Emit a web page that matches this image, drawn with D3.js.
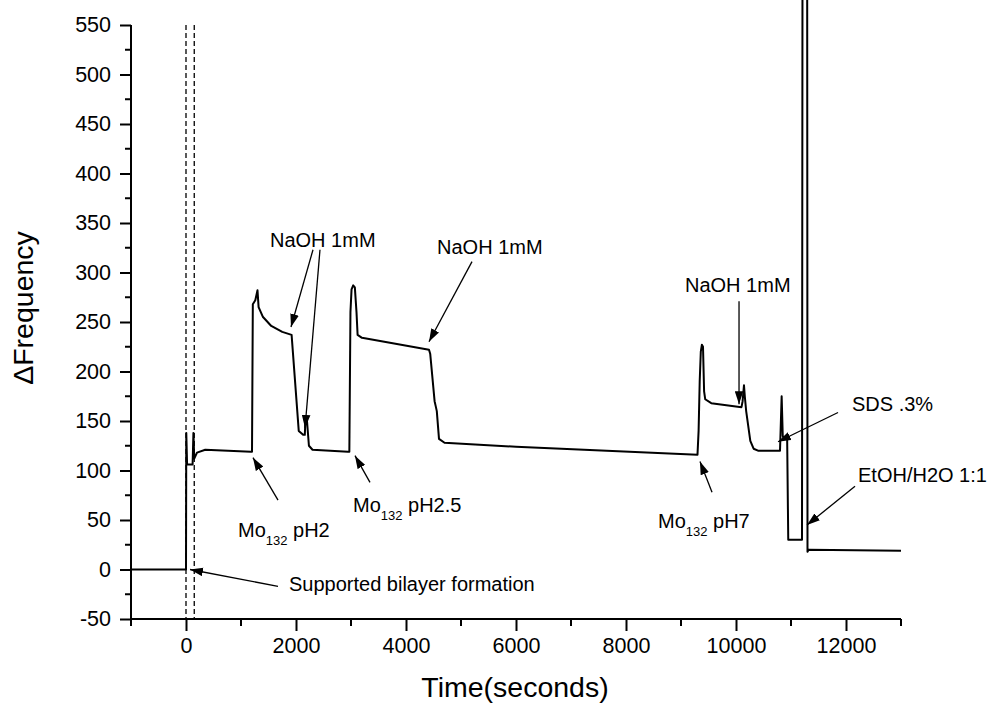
<!DOCTYPE html>
<html>
<head>
<meta charset="utf-8">
<script src="https://cdn.jsdelivr.net/npm/d3@7"></script>
<style>
  html, body { margin: 0; padding: 0; background: #fff; }
  svg { display: block; }
  text { font-family: Arial, "Liberation Sans", sans-serif; fill: #000; }
</style>
</head>
<body>
<svg id="chart" width="997" height="711"></svg>
<script>
// QCM-D trace: frequency shift over time
const timeSec = [
  -1000, 0, 5, 20, 120, 135, 150, 200, 350, 1180,
  1200, 1215, 1260, 1300, 1320, 1400, 1550, 1750, 1920,
  2050, 2130, 2160, 2175, 2200, 2235, 2300, 2945,
  2970, 2990, 3010, 3040, 3070, 3100, 3120, 3200, 4418,
  4440, 4520, 4540, 4560, 4600, 4700, 6000, 9300,
  9320, 9340, 9360, 9380, 9400, 9420, 9440, 9550, 10100,
  10120, 10145, 10160, 10185, 10260, 10320, 10400, 10800,
  10830, 10850, 10870, 10930, 10950, 11000, 11200,
  11215, 11290, 11300, 11320, 13000
];
const deltaFreq = [
  0, 0, 138, 106, 106, 138, 112, 118, 121, 119,
  119, 268, 272, 282, 265, 255, 246, 240, 237,
  140, 136, 136, 155, 150, 125, 121, 119,
  119, 260, 283, 287, 285, 260, 237, 234, 222,
  218, 170, 165, 160, 132, 128, 124, 116,
  140, 190, 220, 227, 225, 180, 172, 168, 164,
  170, 186, 175, 160, 130, 122, 120, 120,
  175, 135, 132, 133, 30, 30, 30,
  1000, 1000, 18, 20, 19
];

// Injection markers (dashed) at the start of bilayer formation
const markerTimes = [0, 150];

// Tick values
const xMajorTicks = [0, 2000, 4000, 6000, 8000, 10000, 12000];
const xMinorTicks = [-1000, 1000, 3000, 5000, 7000, 9000, 11000, 13000];
const yMajorTicks = [-50, 0, 50, 100, 150, 200, 250, 300, 350, 400, 450, 500, 550];
const yMinorTicks = [-25, 25, 75, 125, 175, 225, 275, 325, 375, 425, 475, 525];

// Event annotations: label anchor and arrow (from -> tip) in data units
const annotations = [
  { label: "Supported bilayer formation", at: [1873, -22], arrows: [[[1673, -17], [73, 0]]] },
  { label: "Mo|132| pH2", at: [945, 33], arrows: [[[1673, 70], [1218, 113]]] },
  { label: "Mo|132| pH2.5", at: [3036, 57.6], arrows: [[[3345, 88], [3073, 115]]] },
  { label: "NaOH 1mM", at: [1527, 326], arrows: [[[2309, 323], [1909, 245]], [[2436, 323], [2164, 143]]] },
  { label: "NaOH 1mM", at: [4564, 319], arrows: [[[5200, 311], [4418, 230]]] },
  { label: "Mo|132| pH7", at: [8582, 42.4], arrows: [[[9564, 78], [9345, 109]]] },
  { label: "NaOH 1mM", at: [9073, 280], arrows: [[[10055, 271], [10055, 167]]] },
  { label: "SDS .3%", at: [12109, 160], arrows: [[[11855, 158.6], [10764, 129]]] },
  { label: "EtOH/H2O 1:1", at: [12218, 88], arrows: [[[12164, 84], [11291, 45]]] }
];

const svg = d3.select("#chart");
const plotLeft = 131, plotRight = 901, plotTop = 25, plotBottom = 619;

const x = d3.scaleLinear().domain([-1000, 13000]).range([plotLeft, plotRight]);
const y = d3.scaleLinear().domain([-50, 550]).range([plotBottom, plotTop]);

// plain hyphen for negatives
const plainInt = d => String(d);

// Arrowhead
svg.append("defs").append("marker")
  .attr("id", "head")
  .attr("markerUnits", "userSpaceOnUse")
  .attr("viewBox", "0 0 12 8")
  .attr("refX", 12).attr("refY", 4)
  .attr("markerWidth", 13).attr("markerHeight", 9)
  .attr("orient", "auto")
  .append("path").attr("d", "M0,0 L12,4 L0,8 Z").attr("fill", "#000");

// Dashed marker lines
svg.append("g").selectAll("line").data(markerTimes).join("line")
  .attr("x1", d => x(d)).attr("x2", d => x(d))
  .attr("y1", plotTop).attr("y2", plotBottom)
  .attr("stroke", "#000").attr("stroke-width", 1.3)
  .attr("stroke-dasharray", "5,3");

// Trace
const series = timeSec.map((t, i) => [t, deltaFreq[i]]);
svg.append("path")
  .datum(series)
  .attr("fill", "none").attr("stroke", "#000")
  .attr("stroke-width", 2).attr("stroke-linejoin", "round")
  .attr("d", d3.line().x(d => x(d[0])).y(d => y(d[1])));

// Axes
const xAxis = svg.append("g").attr("transform", `translate(0,${plotBottom})`)
  .call(d3.axisBottom(x).tickValues(xMajorTicks).tickSize(12).tickPadding(7).tickFormat(plainInt));
xAxis.append("g").selectAll("line").data(xMinorTicks).join("line")
  .attr("x1", d => x(d)).attr("x2", d => x(d)).attr("y1", 0).attr("y2", 7)
  .attr("stroke", "#000").attr("stroke-width", 2);

const yAxis = svg.append("g").attr("transform", `translate(${plotLeft},0)`)
  .call(d3.axisLeft(y).tickValues(yMajorTicks).tickSize(11).tickPadding(9).tickFormat(plainInt));
yAxis.append("g").selectAll("line").data(yMinorTicks).join("line")
  .attr("y1", d => y(d)).attr("y2", d => y(d)).attr("x1", 0).attr("x2", -6)
  .attr("stroke", "#000").attr("stroke-width", 2);

[xAxis, yAxis].forEach(g => {
  g.select(".domain").attr("stroke-width", 2);
  g.selectAll(".tick line").attr("stroke-width", 2);
  g.selectAll(".tick text").attr("font-size", 21.5).attr("font-family", "Arial, 'Liberation Sans', sans-serif");
});
xAxis.select(".domain").attr("d", `M${plotLeft},0H${plotRight}`);
yAxis.select(".domain").attr("d", `M0,${plotTop}V${plotBottom}`);

// Axis titles
svg.append("text")
  .attr("x", 515).attr("y", 697)
  .attr("text-anchor", "middle").attr("font-size", 28.5)
  .text("Time(seconds)");
svg.append("text")
  .attr("transform", "translate(33,308) rotate(-90)")
  .attr("text-anchor", "middle").attr("font-size", 28.5)
  .text("\u0394Frequency");

// Annotations
const ann = svg.append("g");
annotations.forEach(a => {
  a.arrows.forEach(([from, tip]) => {
    ann.append("line")
      .attr("x1", x(from[0])).attr("y1", y(from[1]))
      .attr("x2", x(tip[0])).attr("y2", y(tip[1]))
      .attr("stroke", "#000").attr("stroke-width", 1.3)
      .attr("marker-end", "url(#head)");
  });
  const t = ann.append("text").attr("x", x(a.at[0])).attr("y", y(a.at[1])).attr("font-size", 20);
  const parts = a.label.split("|");
  if (parts.length === 3) {
    t.append("tspan").text(parts[0]);
    t.append("tspan").attr("font-size", 13).attr("dy", 8).text(parts[1]);
    t.append("tspan").attr("dy", -8).text(parts[2]);
  } else {
    t.text(a.label);
  }
});
</script>
</body>
</html>
